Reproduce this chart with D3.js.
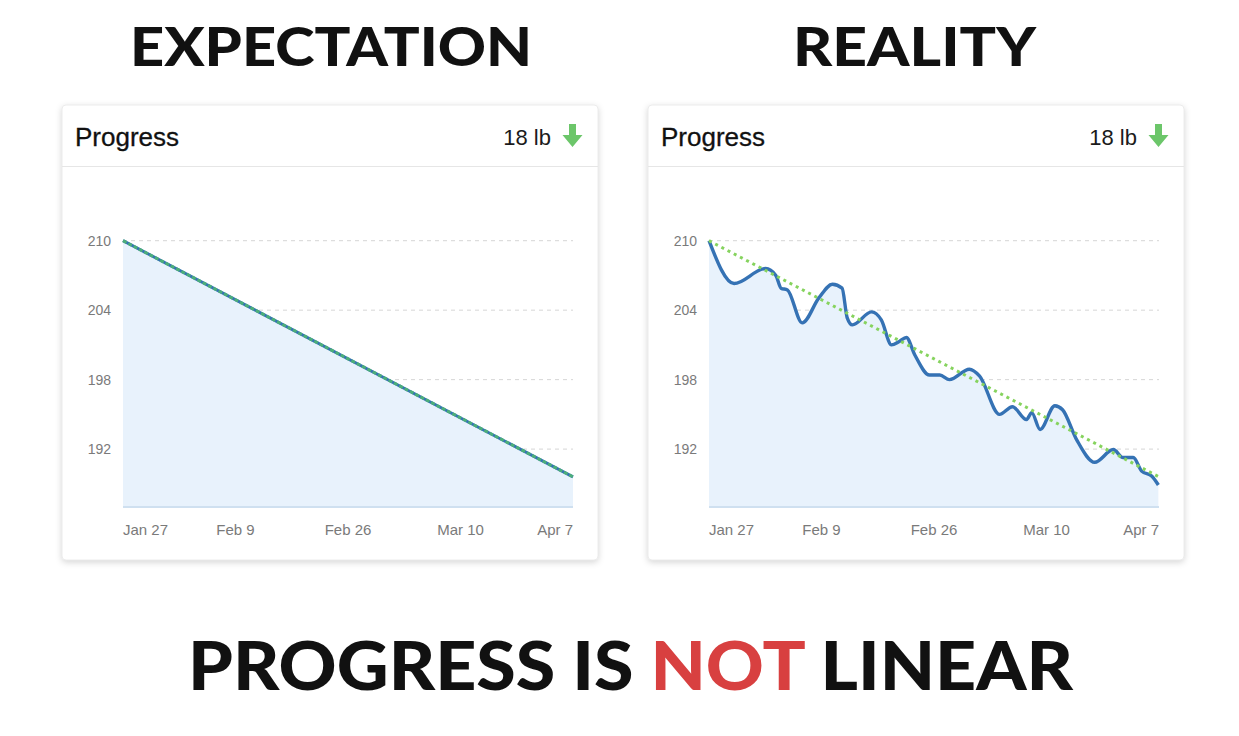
<!DOCTYPE html>
<html>
<head>
<meta charset="utf-8">
<script src="https://cdn.jsdelivr.net/npm/d3@7"></script>
<style>
  html, body { margin: 0; padding: 0; background: #fff; }
  svg { display: block; }
</style>
</head>
<body>
<svg id="chart" width="1239" height="736"></svg>
<script>
// Data
const titles = ['EXPECTATION', 'REALITY']
const cardTitle = 'Progress'
const lossLabel = '18 lb'
const xLabels = ['Jan 27', 'Feb 9', 'Feb 26', 'Mar 10', 'Apr 7']
const yTicks = [192, 198, 204, 210]
const yDomain = [187, 210]
const dayDomain = [0, 70]
// straight target line (days since Jan 27, lb)
const expectedDays = [0, 70]
const expectedWeights = [210, 189.6]
const realDays = [0, 3.9, 8.8, 10.4, 11.2, 12.2, 14.5, 17.1, 19.2, 20.7, 21.5, 22.3, 25.3, 26.8, 28.4, 29.6, 30.7, 32.0, 34.3, 35.9, 37.4, 40.5, 42.1, 45.2, 47.2, 49.4, 50.2, 51.5, 53.8, 55.0, 57.2, 60.0, 62.9, 64.4, 66.0, 67.3, 68.9, 69.9]
const realWeights = [210.0, 206.3, 207.6, 207.0, 205.9, 205.75, 202.9, 205.06, 206.24, 205.9, 203.34, 202.73, 203.85, 203.16, 201.0, 201.3, 201.64, 200.15, 198.4, 198.4, 198.0, 198.9, 198.3, 195.0, 195.66, 194.55, 195.15, 193.7, 195.75, 195.4, 192.8, 190.86, 191.96, 191.27, 191.27, 190.1, 189.66, 188.9]
const footerParts = ['PROGRESS IS ', 'NOT', ' LINEAR']

const svg = d3.select('#chart')
const titleFont = 'Lato, "Open Sans", sans-serif'
const uiFont = '"Liberation Sans", Roboto, Arial, sans-serif'

// Layout of the two cards
const card = { x: 62, y: 105, w: 536, h: 455, gap: 586 }
const plot = { left: 123, right: 573, top: 240.7, bottom: 507 }

const x = d3.scaleLinear().domain(dayDomain).range([plot.left, plot.right])
const y = d3.scaleLinear().domain(yDomain).range([plot.bottom, plot.top])
const xLab = d3.scalePoint().domain(xLabels).range([plot.left, plot.right])

const expected = expectedDays.map((d, i) => ({ day: d, w: expectedWeights[i] }))
const real = realDays.map((d, i) => ({ day: d, w: realWeights[i] }))

drawTitles()
drawCard(0, expected, true)
drawCard(card.gap, real, false)
drawFooter()

function drawTitles () {
  const centres = [331, 914.5]
  const widths = [402, 243]
  titles.forEach((t, i) => {
    svg.append('text')
      .attr('x', centres[i])
      .attr('y', 66)
      .attr('text-anchor', 'middle')
      .attr('textLength', widths[i])
      .attr('lengthAdjust', 'spacingAndGlyphs')
      .style('font-family', titleFont)
      .style('font-weight', 900)
      .style('font-size', '54px')
      .style('fill', '#111')
      .text(t)
  })
}

function drawCard (dx, series, straight) {
  const g = svg.append('g').attr('transform', `translate(${dx},0)`)

  g.append('rect')
    .attr('x', card.x)
    .attr('y', card.y)
    .attr('width', card.w)
    .attr('height', card.h)
    .attr('rx', 4)
    .attr('fill', '#fff')
    .attr('stroke', '#ececec')
    .style('filter', 'drop-shadow(0px 2px 3px rgba(0,0,0,0.16))')

  // header
  g.append('line')
    .attr('x1', card.x).attr('x2', card.x + card.w)
    .attr('y1', 166.5).attr('y2', 166.5)
    .attr('stroke', '#e6e6e6')
  g.append('text')
    .attr('x', 75).attr('y', 146)
    .style('font-family', uiFont)
    .style('font-size', '26px')
    .style('fill', '#111')
    .style('stroke', '#111')
    .style('stroke-width', 0.3)
    .text(cardTitle)
  g.append('text')
    .attr('x', 551).attr('y', 145)
    .attr('text-anchor', 'end')
    .style('font-family', uiFont)
    .style('font-size', '22px')
    .style('fill', '#1b1b1b')
    .text(lossLabel)
  g.append('path') // down arrow
    .attr('d', 'M569,124 h7 v11 h6.5 l-10,12 l-10,-12 h6.5 z')
    .attr('fill', '#6cc66a')

  // grid
  g.selectAll('.grid')
    .data(yTicks)
    .enter().append('line')
    .attr('x1', plot.left).attr('x2', plot.right)
    .attr('y1', d => y(d)).attr('y2', d => y(d))
    .attr('stroke', '#d6d6d6')
    .attr('stroke-dasharray', '4,4')
  g.selectAll('.ylab')
    .data(yTicks)
    .enter().append('text')
    .attr('x', plot.left - 12)
    .attr('y', d => y(d) + 5)
    .attr('text-anchor', 'end')
    .style('font-family', uiFont)
    .style('font-size', '14px')
    .style('fill', '#7a7a7a')
    .text(d => d)

  // area and lines
  let area = d3.area()
    .x(d => x(d.day))
    .y0(y(yDomain[0]))
    .y1(d => y(d.w))
  let line = d3.line()
    .x(d => x(d.day))
    .y(d => y(d.w))
  if (!straight) {
    area.curve(d3.curveMonotoneX)
    line.curve(d3.curveMonotoneX)
  }
  g.append('path')
    .datum(series)
    .attr('d', area)
    .attr('fill', '#e8f2fc')
  g.append('line')
    .attr('x1', plot.left).attr('x2', plot.right)
    .attr('y1', plot.bottom).attr('y2', plot.bottom)
    .attr('stroke', '#cfe0f0')
    .attr('stroke-width', 2)

  g.append('path')
    .datum(series)
    .attr('d', line)
    .attr('fill', 'none')
    .attr('stroke', '#3572b4')
    .attr('stroke-width', straight ? 3 : 3.4)
    .attr('stroke-linejoin', 'round')
  g.append('path') // dotted target
    .datum(expected)
    .attr('d', d3.line().x(d => x(d.day)).y(d => y(d.w)))
    .attr('fill', 'none')
    .attr('stroke', straight ? '#4cae7a' : '#86d35e')
    .attr('stroke-width', 3)
    .attr('stroke-dasharray', straight ? '4,2' : '3,4')

  // x labels
  g.selectAll('.xlab')
    .data(xLabels)
    .enter().append('text')
    .attr('x', d => xLab(d))
    .attr('y', 535)
    .attr('text-anchor', (d, i) => i === 0 ? 'start' : i === xLabels.length - 1 ? 'end' : 'middle')
    .style('font-family', uiFont)
    .style('font-size', '15px')
    .style('fill', '#7a7a7a')
    .text(d => d)
}

function drawFooter () {
  let t = svg.append('text')
    .attr('x', 630.5)
    .attr('y', 690)
    .attr('text-anchor', 'middle')
    .attr('textLength', 885)
    .attr('lengthAdjust', 'spacingAndGlyphs')
    .style('font-family', titleFont)
    .style('font-weight', 900)
    .style('font-size', '67px')
    .style('white-space', 'pre')
  footerParts.forEach((p, i) => {
    t.append('tspan')
      .style('fill', i === 1 ? '#d84040' : '#111')
      .text(p)
  })
}
</script>
</body>
</html>
